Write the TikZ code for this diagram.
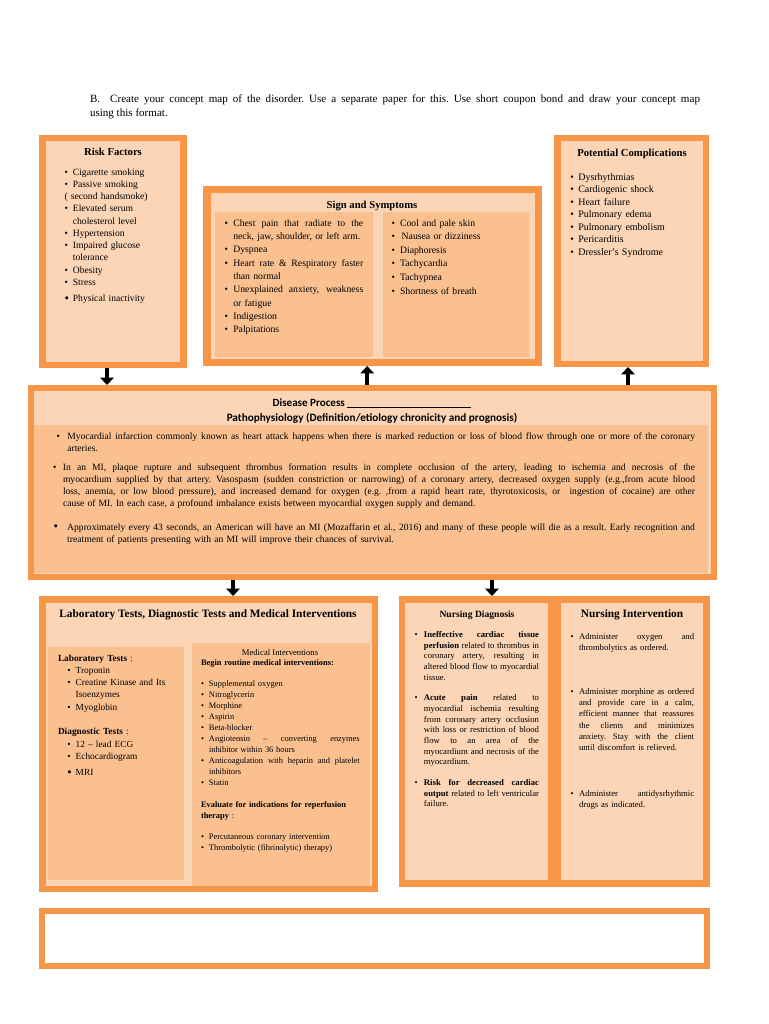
\documentclass[tikz,border=0pt]{standalone}
\usepackage{fontspec}
\setmainfont{Liberation Serif}
\newfontfamily\calfont{Carlito}
\usetikzlibrary{fit,arrows.meta}
\definecolor{orng}{HTML}{F79646}
\definecolor{lite}{HTML}{FBD5B5}
\definecolor{dark}{HTML}{FAC090}
\newlength\bind
\newlength\jw
\newcommand\bul{\makebox[\bind][l]{\textbullet}}
\newcommand\bigbul{\makebox[\bind][l]{\raisebox{-0.4pt}{\fontsize{9.5}{9.5}\selectfont\textbullet}}}
\newcommand\indt{\hspace*{\bind}}
\newcommand\jline[1]{\hbox to \jw{\spaceskip=0.25em plus 1fil minus 0.08em\xspaceskip=\spaceskip #1}}
\newcommand\fsz[2]{\fontsize{#1}{#2}\selectfont}
\tikzset{
  frame/.style={fill=orng, inner sep=0pt, outer sep=0pt},
  litepanel/.style={fill=lite, inner sep=0pt, outer sep=0pt},
  darkpanel/.style={fill=dark, inner sep=0pt, outer sep=0pt},
  whitepanel/.style={fill=white, inner sep=0pt, outer sep=0pt},
  txt/.style={inner sep=0pt, outer sep=0pt, anchor=base west, text width=#1},
  line/.style={inner sep=0pt, outer sep=0pt, anchor=base west},
  ttl/.style={inner sep=0pt, outer sep=0pt, anchor=base, font=\fsz{8}{10}\bfseries},
  barrow/.style={draw=black, line width=3.4pt, -{Triangle[width=10pt,length=5.5pt]}},
}
\begin{document}
\begin{tikzpicture}[x=0.75pt,y=-0.75pt]
\useasboundingbox (0,0) rectangle (768,1024);
\fill[white] (0,0) rectangle (768,1024);

% instruction
\node[line, font=\fsz{8.3}{10}] (ins1) at (90,103) {\setlength\jw{457.5pt}\jline{B.\ \ Create your concept map of the disorder. Use a separate paper for this. Use short coupon bond and draw your concept map}};
\node[line, font=\fsz{8.3}{10}] (ins2) at (90,116) {using this format.};

% ---------- boxes ----------
\node[frame, fit={(39,135)(187,368)}] (rf) {};
\node[litepanel, fit={(46,141)(180,362)}] (rfin) {};

\node[frame, fit={(203,186)(542,366)}] (ss) {};
\node[litepanel, fit={(211,193)(535,359)}] (ssin) {};
\node[darkpanel, fit={(215,212)(373,357)}] (ssl) {};
\node[darkpanel, fit={(383,212)(529,357)}] (ssr) {};

\node[frame, fit={(554,135)(709,367)}] (pc) {};
\node[litepanel, fit={(561,141)(703,361)}] (pcin) {};

\node[frame, fit={(28,385)(717,580)}] (dp) {};
\node[litepanel, fit={(34,391)(711,574)}] (dpin) {};
\node[darkpanel, fit={(34,425)(708,573)}] (dpdk) {};

\node[frame, fit={(39,596)(378,892)}] (lab) {};
\node[litepanel, fit={(46,603)(372,886)}] (labin) {};
\node[darkpanel, fit={(48,647)(184,880)}] (labl) {};
\node[darkpanel, fit={(192,643)(370,886)}] (labr) {};

\node[frame, fit={(399,596)(710,887)}] (nb) {};
\node[litepanel, fit={(405,603)(548,880)}] (nd) {};
\node[litepanel, fit={(561,603)(703,880)}] (ni) {};

\node[frame, fit={(39,908)(710,969)}] (bb) {};
\node[whitepanel, fit={(45,914)(704,963)}] (bbin) {};

% ---------- Risk Factors ----------
\node[ttl] (rft) at (113,155) {Risk Factors};
\node[txt=110pt, font=\fsz{7.2}{9.2}] (rftx) at (64.5,175) {\setlength\bind{6.3pt}%
\bul Cigarette smoking\\
\bul Passive smoking\\
( second handsmoke)\\
\bul Elevated serum\\
\indt cholesterol level\\
\bul Hypertension\\
\bul Impaired glucose\\
\indt tolerance\\
\bul Obesity\\
\bul Stress\\[3pt]
\bigbul Physical inactivity};

% ---------- Sign and Symptoms ----------
\node[ttl] (sst) at (372,208) {Sign and Symptoms};
\node[txt=105pt, font=\fsz{7.3}{10}] (sstl) at (224.5,226) {\setlength\bind{6.6pt}\setlength\jw{97.5pt}%
\bul\jline{Chest pain that radiate to the}\\
\indt neck, jaw, shoulder, or left arm.\\
\bul Dyspnea\\
\bul\jline{Heart rate \& Respiratory faster}\\
\indt than normal\\
\bul\jline{Unexplained anxiety, weakness}\\
\indt or fatigue\\
\bul Indigestion\\
\bul Palpitations};
\node[txt=100pt, font=\fsz{7.3}{10.2}] (sstr) at (391.5,226) {\setlength\bind{6.4pt}%
\bul Cool and pale skin\\
\bul \,Nausea or dizziness\\
\bul Diaphoresis\\
\bul Tachycardia\\
\bul Tachypnea\\
\bul Shortness of breath};

% ---------- Potential Complications ----------
\node[ttl] (pct) at (632,156) {Potential Complications};
\node[txt=100pt, font=\fsz{7.5}{9.4}] (pctx) at (570.3,180) {\setlength\bind{6pt}%
\bul Dysrhythmias\\
\bul Cardiogenic shock\\
\bul Heart failure\\
\bul Pulmonary edema\\
\bul Pulmonary embolism\\
\bul Pericarditis\\
\bul Dressler’s Syndrome};

% ---------- Disease Process ----------
\node[inner sep=0pt, anchor=base, font=\calfont\bfseries\fsz{8.3}{10}] (dph1) at (372,406) {Disease Process \rule[-1.5pt]{93pt}{0.5pt}};
\node[inner sep=0pt, anchor=base, font=\calfont\bfseries\fsz{8.4}{10}] (dph2) at (372,421.5) {Pathophysiology (Definition/etiology chronicity and prognosis)};

\node[txt=490pt, font=\fsz{7.2}{9}] (dp1) at (56.5,439) {\setlength\bind{8.1pt}\setlength\jw{470.8pt}%
\bul\jline{Myocardial infarction commonly known as heart attack happens when there is marked reduction or loss of blood flow through one or more of the coronary}\\
\indt arteries.};
\node[txt=490pt, font=\fsz{7.2}{9}] (dp2) at (53.2,470) {\setlength\bind{7.35pt}\setlength\jw{474pt}%
\bul\jline{In an MI, plaque rupture and subsequent thrombus formation results in complete occlusion of the artery, leading to ischemia and necrosis of the}\\
\indt\jline{myocardium supplied by that artery. Vasospasm (sudden constriction or narrowing) of a coronary artery, decreased oxygen supply (e.g.,from acute blood}\\
\indt\jline{loss, anemia, or low blood pressure), and increased demand for oxygen (e.g. ,from a rapid heart rate, thyrotoxicosis, or \ ingestion of cocaine) are other}\\
\indt cause of MI. In each case, a profound imbalance exists between myocardial oxygen supply and demand.};
\node[txt=490pt, font=\fsz{7.2}{9}] (dp3) at (53.5,530) {\setlength\bind{10.3pt}\setlength\jw{470.8pt}%
\bigbul\jline{Approximately every 43 seconds, an American will have an MI (Mozaffarin et al., 2016) and many of these people will die as a result. Early recognition and}\\
\indt treatment of patients presenting with an MI will improve their chances of survival.};

% ---------- Lab tests ----------
\node[ttl, font=\fsz{8.5}{10}\bfseries] (labt) at (208,617) {Laboratory Tests, Diagnostic Tests and Medical Interventions};
\node[txt=125pt, font=\fsz{7}{9.2}] (labtx) at (58,661) {\setlength\bind{6.2pt}%
\textbf{Laboratory Tests} :\\
\hspace*{7.1pt}\bul Troponin\\
\hspace*{7.1pt}\bul Creatine Kinase and Its\\
\hspace*{7.1pt}\indt Isoenzymes\\
\hspace*{7.1pt}\bul Myoglobin\\[9.4pt]
\textbf{Diagnostic Tests} :\\
\hspace*{7.1pt}\bul 12 -- lead ECG\\
\hspace*{7.1pt}\bul Echocardiogram\\[3pt]
\hspace*{7.1pt}\bigbul MRI};

\node[inner sep=0pt, anchor=base, font=\fsz{6.5}{8}] (mit) at (280,655) {Medical Interventions};
\node[txt=122pt, font=\fsz{6.3}{8.2}] (mitx) at (201,665) {\setlength\bind{6pt}\setlength\jw{113pt}%
\textbf{Begin routine medical interventions:}\\[8.2pt]
\bul Supplemental oxygen\\
\bul Nitroglycerin\\
\bul Morphine\\
\bul Aspirin\\
\bul Beta-blocker\\
\bul\jline{Angiotensin -- converting enzymes}\\
\indt inhibitor within 36 hours\\
\bul\jline{Anticoagulation with heparin and platelet}\\
\indt inhibitors\\
\bul Statin\\[8.7pt]
\textbf{Evaluate for indications for reperfusion}\\
\textbf{therapy} :\\[7.6pt]
\bul Percutaneous coronary intervention\\
\bul Thrombolytic (fibrinolytic) therapy)};

% ---------- Nursing Diagnosis ----------
\node[ttl, font=\fsz{7.2}{9}\bfseries] (ndt) at (477,617) {Nursing Diagnosis};
\node[txt=96pt, font=\fsz{6.5}{8}] (ndtx) at (414.5,637.5) {\setlength\bind{7.1pt}\setlength\jw{86.3pt}%
\bul\jline{\textbf{Ineffective cardiac tissue}}\\
\indt\jline{\textbf{perfusion} related to thrombus in}\\
\indt\jline{coronary artery, resulting in}\\
\indt\jline{altered blood flow to myocardial}\\
\indt tissue.\\[7.5pt]
\bul\jline{\textbf{Acute pain} related to}\\
\indt\jline{myocardial ischemia resulting}\\
\indt\jline{from coronary artery occlusion}\\
\indt\jline{with loss or restriction of blood}\\
\indt\jline{flow to an area of the}\\
\indt\jline{myocardium and necrosis of the}\\
\indt myocardium.\\[7.5pt]
\bul\jline{\textbf{Risk for decreased cardiac}}\\
\indt\jline{\textbf{output} related to left ventricular}\\
\indt failure.};

% ---------- Nursing Intervention ----------
\node[ttl, font=\fsz{8.5}{10}\bfseries] (nit) at (632,617.5) {Nursing Intervention};
\node[txt=96pt, font=\fsz{6.5}{8.5}] (nitx) at (570.5,639) {\setlength\bind{6.4pt}\setlength\jw{86.3pt}%
\bul\jline{Administer oxygen and}\\
\indt thrombolytics as ordered.\\[24.3pt]
\bul\jline{Administer morphine as ordered}\\
\indt\jline{and provide care in a calm,}\\
\indt\jline{efficient manner that reassures}\\
\indt\jline{the clients and minimizes}\\
\indt\jline{anxiety. Stay with the client}\\
\indt until discomfort is relieved.\\[25.5pt]
\bul\jline{Administer antidysrhythmic}\\
\indt drugs as indicated.};

% ---------- arrows ----------
\draw[barrow] ([xshift=-4.5pt]rf.south) -- ([xshift=-4.5pt]rf.south |- dp.north);
\draw[barrow] ([xshift=-4pt]ss.south |- dp.north) -- ([xshift=-4pt]ss.south);
\draw[barrow] ([xshift=-2.6pt]pc.south |- dp.north) -- ([xshift=-2.6pt]pc.south);
\draw[barrow] ([xshift=18.4pt]lab.north |- dp.south) -- ([xshift=18.4pt]lab.north);
\draw[barrow] ([xshift=-46.9pt]nb.north |- dp.south) -- ([xshift=-46.9pt]nb.north);
\end{tikzpicture}
\end{document}
